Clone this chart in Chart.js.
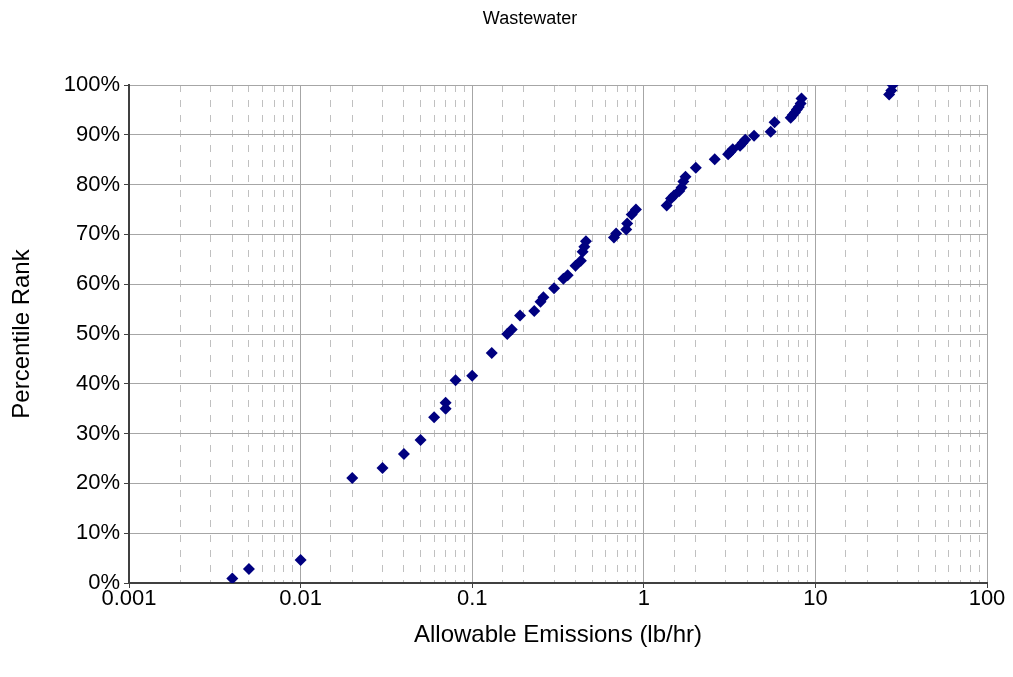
<!DOCTYPE html>
<html>
<head>
<meta charset="utf-8">
<title>Wastewater</title>
<script src="https://cdn.jsdelivr.net/npm/chart.js@4/dist/chart.umd.min.js"></script>
<style>
  body { margin: 0; background: #fff; }
  #wrap { width: 1013px; height: 677px; }
</style>
</head>
<body>
<div id="wrap"><canvas id="myChart" width="1013" height="677"></canvas></div>
<script>
// allowable emissions (lb/hr) and their percentile rank (%)
let emissions = [
  0.004, 0.005, 0.01, 0.02, 0.03, 0.04, 0.05, 0.06, 0.07, 0.07,
  0.08, 0.1, 0.13, 0.16, 0.17, 0.19, 0.23, 0.25, 0.26, 0.3,
  0.34, 0.36, 0.4, 0.43, 0.44, 0.45, 0.46, 0.67, 0.69, 0.79,
  0.8, 0.85, 0.9, 1.36, 1.44, 1.5, 1.61, 1.66, 1.7, 1.75,
  2.01, 2.59, 3.1, 3.2, 3.3, 3.64, 3.77, 3.9, 4.39, 5.49,
  5.78, 7.18, 7.38, 7.6, 7.8, 8.0, 8.2, 8.3, 26.9, 27.7, 28.2
];
let percentRank = [
  0.9, 2.8, 4.6, 21.1, 23.1, 25.9, 28.7, 33.3, 35.0, 36.2,
  40.7, 41.6, 46.2, 50.0, 50.9, 53.7, 54.6, 56.5, 57.4, 59.2,
  61.1, 61.8, 63.7, 64.7, 66.5, 67.5, 68.6, 69.4, 70.2, 71.0,
  72.2, 74.0, 75.0, 75.8, 77.2, 77.8, 78.7, 79.4, 80.6, 81.6,
  83.4, 85.1, 86.1, 86.6, 87.1, 87.8, 88.4, 89.0, 89.8, 90.6,
  92.5, 93.4, 94.0, 94.5, 95.1, 95.6, 96.3, 97.3, 98.1, 98.9, 100
];
let xTickLabels = ["0.001", "0.01", "0.1", "1", "10", "100"];
let chartTitle = "Wastewater";

Chart.defaults.font.family = "'Liberation Sans', Arial, sans-serif";
Chart.defaults.font.size = 22;
Chart.defaults.color = "#000";

let points = emissions.map((x, i) => ({ x: x, y: percentRank[i] }));

function isDecade(v) {
  let e = Math.log10(v);
  return Math.abs(e - Math.round(e)) < 1e-6;
}

// title sits a little left of the plot centre, so draw it by hand
const titlePlugin = {
  id: "plainTitle",
  afterDraw(chart) {
    let c = chart.ctx;
    c.save();
    c.font = "18px 'Liberation Sans', Arial, sans-serif";
    c.fillStyle = "#000";
    c.textAlign = "center";
    c.textBaseline = "middle";
    c.fillText(chartTitle, 530, 19);
    c.restore();
  },
};

var ctx = document.getElementById("myChart").getContext("2d");
var chart = new Chart(ctx, {
  type: "scatter",
  data: {
    datasets: [
      {
        data: points,
        pointStyle: "rectRot",
        pointRadius: 6,
        pointHoverRadius: 6,
        backgroundColor: "#000080",
        borderColor: "#000080",
        borderWidth: 0,
      },
    ],
  },
  options: {
    responsive: false,
    devicePixelRatio: 1,
    animation: false,
    layout: { padding: { left: 0, right: 26, top: 85, bottom: 0 } },
    plugins: {
      legend: { display: false },
      tooltip: { enabled: false },
      title: { display: false },
    },
    scales: {
      x: {
        type: "logarithmic",
        min: 0.001,
        max: 100,
        afterFit: (scale) => { scale.height = 94; },
        ticks: {
          autoSkip: false,
          maxRotation: 0,
          padding: -2,
          callback: function (value) {
            if (!isDecade(value)) return "";
            let idx = Math.round(Math.log10(value)) + 3;
            return xTickLabels[idx];
          },
        },
        grid: {
          color: (c) => (c.tick && isDecade(c.tick.value) ? "#a6a6a6" : "#c0c0c0"),
          tickColor: (c) => (c.tick && isDecade(c.tick.value) ? "#404040" : "rgba(0,0,0,0)"),
          tickLength: 5,
          lineWidth: 1,
        },
        border: {
          color: "#404040",
          width: 2,
          dash: (c) => (c.tick && !isDecade(c.tick.value) ? [7, 8] : []),
        },
        title: {
          display: true,
          text: "Allowable Emissions (lb/hr)",
          font: { size: 24 },
          padding: { top: 0, bottom: 27.6 },
        },
      },
      y: {
        min: 0,
        max: 100,
        afterFit: (scale) => { scale.width = 129; },
        ticks: {
          stepSize: 10,
          padding: 4,
          callback: (v) => v + "%",
        },
        grid: {
          color: "#a6a6a6",
          tickColor: "#404040",
          tickLength: 5,
          lineWidth: 1,
        },
        border: { color: "#404040", width: 2 },
        title: {
          display: true,
          text: "Percentile Rank",
          font: { size: 24 },
          padding: { top: 8, bottom: 0 },
        },
      },
    },
  },
  plugins: [titlePlugin],
});
</script>
</body>
</html>
